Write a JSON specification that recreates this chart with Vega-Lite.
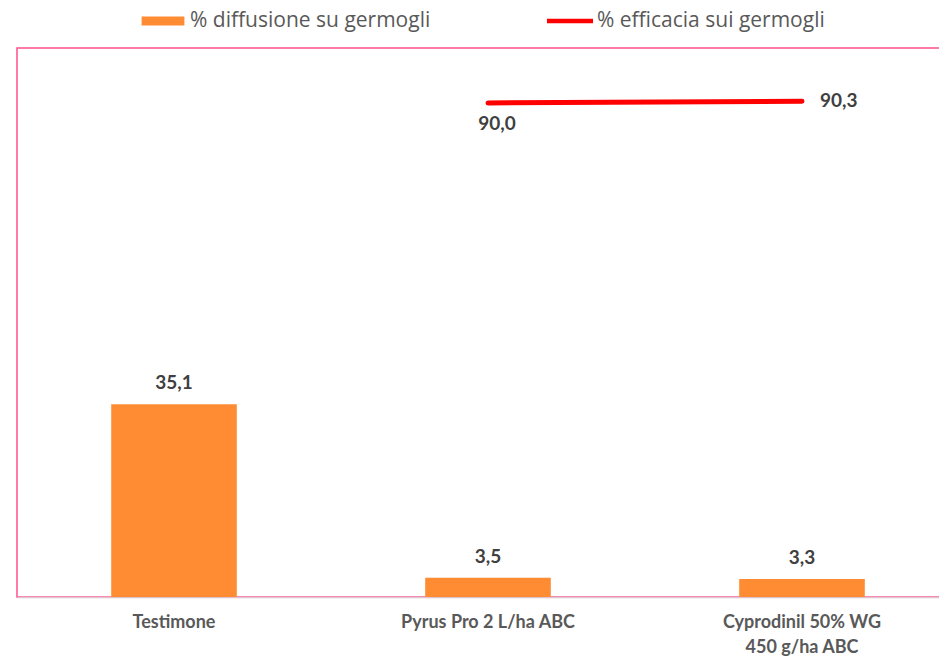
{
  "$schema": "https://vega.github.io/schema/vega-lite/v6.json",
  "width": 942,
  "height": 549,
  "autosize": {"type": "none"},
  "padding": {"left": 17, "top": 48, "right": 0, "bottom": 61},
  "background": "white",
  "config": {
    "locale": {"number": {"decimal": ",", "thousands": ".", "grouping": [3], "currency": ["", "€"]}},
    "view": {"stroke": "#FF4F8B", "strokeWidth": 1.5},
    "font": "Lato"
  },
  "data": {
    "values": [
      {"cat": "Testimone", "diff": 35.1, "eff": null},
      {"cat": "Pyrus Pro 2 L/ha ABC", "diff": 3.5, "eff": 90.0},
      {"cat": "Cyprodinil 50% WG 450 g/ha ABC", "diff": 3.3, "eff": 90.3}
    ]
  },
  "encoding": {
    "x": {
      "field": "cat",
      "type": "nominal",
      "sort": null,
      "scale": {"paddingInner": 0.6, "paddingOuter": 0.3},
      "axis": {
        "title": null,
        "labelAngle": 0,
        "labelFont": "Lato",
        "labelFontWeight": "bold",
        "labelFontSize": 18,
        "labelColor": "#595959",
        "labelPadding": 16,
        "labelLimit": 0,
        "labelLineHeight": 25,
        "labelExpr": "datum.label == 'Cyprodinil 50% WG 450 g/ha ABC' ? ['Cyprodinil 50% WG', '450 g/ha ABC'] : datum.label",
        "ticks": false,
        "domainColor": "#DCC3CF",
        "domainWidth": 1.5
      }
    }
  },
  "layer": [
    {
      "mark": {"type": "bar", "color": "#FF8C33"},
      "encoding": {
        "y": {"field": "diff", "type": "quantitative", "scale": {"domain": [0, 100]}, "axis": null},
        "color": {
          "datum": "% diffusione su germogli",
          "scale": {"domain": ["% diffusione su germogli", "% efficacia sui germogli"], "range": ["#FF8C33", "#FF0000"]},
          "legend": {
            "title": null,
            "orient": "none",
            "direction": "horizontal",
            "legendX": 123,
            "legendY": -50,
            "symbolSize": 2116,
            "symbolStrokeWidth": 0,
            "labelFont": "Open Sans",
            "labelFontSize": 21,
            "labelColor": "#595959",
            "labelOffset": 4,
            "labelLimit": 0,
            "columnPadding": 116,
            "encode": {
              "symbols": {
                "update": {
                  "shape": {"signal": "datum.value === '% diffusione su germogli' ? 'M-0.93,-0.2H0.93V0.2H-0.93Z' : 'M-1,-0.1H1V0.1H-1Z'"},
                  "fill": {"signal": "datum.value === '% diffusione su germogli' ? '#FF8C33' : '#FF0000'"},
                  "strokeWidth": {"value": 0},
                  "opacity": {"value": 1}
                }
              }
            }
          }
        }
      }
    },
    {
      "mark": {"type": "text", "baseline": "bottom", "dy": -11, "font": "Lato", "fontWeight": "bold", "fontSize": 19, "color": "#404040"},
      "encoding": {
        "y": {"field": "diff", "type": "quantitative"},
        "text": {"field": "diff", "type": "quantitative", "format": ".1f"}
      }
    },
    {
      "transform": [{"filter": "isValid(datum.eff)"}],
      "mark": {"type": "line", "strokeWidth": 5, "strokeCap": "round", "color": "#FF0000"},
      "encoding": {
        "y": {"field": "eff", "type": "quantitative"},
        "color": {"datum": "% efficacia sui germogli"}
      }
    },
    {
      "transform": [{"filter": "datum.cat == 'Pyrus Pro 2 L/ha ABC'"}],
      "mark": {"type": "text", "baseline": "middle", "align": "center", "dx": 9, "dy": 21, "font": "Lato", "fontWeight": "bold", "fontSize": 19, "color": "#404040"},
      "encoding": {
        "y": {"field": "eff", "type": "quantitative"},
        "text": {"field": "eff", "type": "quantitative", "format": ".1f"}
      }
    },
    {
      "transform": [{"filter": "datum.cat == 'Cyprodinil 50% WG 450 g/ha ABC'"}],
      "mark": {"type": "text", "baseline": "middle", "align": "left", "dx": 18, "dy": 0, "font": "Lato", "fontWeight": "bold", "fontSize": 19, "color": "#404040"},
      "encoding": {
        "y": {"field": "eff", "type": "quantitative"},
        "text": {"field": "eff", "type": "quantitative", "format": ".1f"}
      }
    }
  ]
}
